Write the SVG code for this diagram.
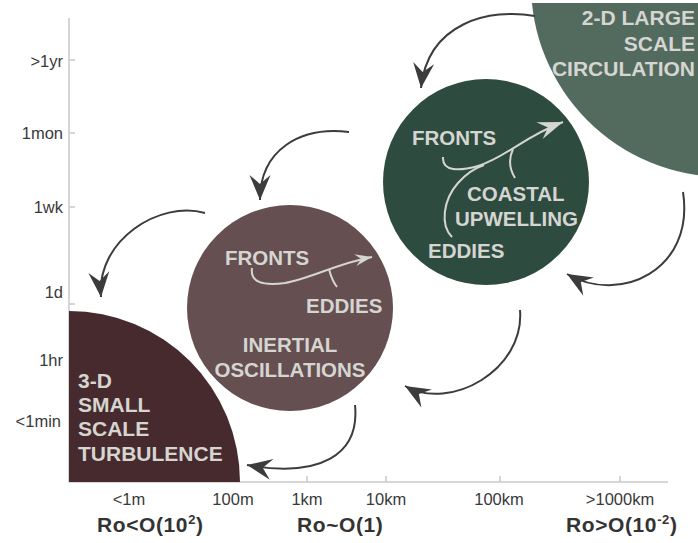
<svg xmlns="http://www.w3.org/2000/svg" width="698" height="543" viewBox="0 0 698 543">
<style>
.ax{stroke:#c9c9c9;stroke-width:1.5;fill:none}
.tl{font-family:"Liberation Sans",Arial,sans-serif;font-size:16.5px;fill:#3a3a3a}
.ro{font-family:"Liberation Sans",Arial,sans-serif;font-size:21px;font-weight:bold;fill:#333;letter-spacing:0.6px}
.lb{font-family:"Liberation Sans",Arial,sans-serif;font-size:20.5px;font-weight:bold;fill:#d5d5d1}
.lg{font-size:21px}
.cn{stroke:#3c3c3c;stroke-width:2;fill:none;marker-end:url(#ah)}
.ia{stroke:#d5d5d1;stroke-width:2;fill:none}
</style>
<defs>
<marker id="ah" markerUnits="userSpaceOnUse" markerWidth="1" markerHeight="1" refX="0" refY="0" orient="auto" overflow="visible">
<path d="M0,0 L-25,-10.5 L-16,0 L-25,10.5 Z" fill="#3c3c3c"/>
</marker>
<marker id="wb" markerUnits="userSpaceOnUse" markerWidth="1" markerHeight="1" refX="0" refY="0" orient="auto" overflow="visible">
<path d="M0,0 L-25,-9 L-16,0 L-25,9 Z" fill="#d5d5d1"/>
</marker>
<marker id="ws" markerUnits="userSpaceOnUse" markerWidth="1" markerHeight="1" refX="0" refY="0" orient="auto" overflow="visible">
<path d="M0,0 L-17,-6 L-11,0 L-17,6 Z" fill="#d5d5d1"/>
</marker>
<clipPath id="cl"><rect x="0" y="3" width="698" height="540"/></clipPath>
</defs>

<g id="axes">
<path class="ax" d="M69,18 V482 H668"/>
<path class="ax" d="M69,60 h6 M69,133 h6 M69,207 h6 M69,304 h6"/>
<path class="ax" d="M129,482 v-6 M189,482 v-6 M205,482 v-6 M226,482 v-6 M307,482 v-6 M386,482 v-6 M500,482 v-6 M620,482 v-6"/>
<text class="tl" x="63" y="67" text-anchor="end">&gt;1yr</text>
<text class="tl" x="63" y="139" text-anchor="end">1mon</text>
<text class="tl" x="63" y="213" text-anchor="end">1wk</text>
<text class="tl" x="63" y="298" text-anchor="end">1d</text>
<text class="tl" x="63" y="366" text-anchor="end">1hr</text>
<text class="tl" x="61" y="427" text-anchor="end">&lt;1min</text>
<text class="tl" x="129" y="505" text-anchor="middle">&lt;1m</text>
<text class="tl" x="233" y="505" text-anchor="middle">100m</text>
<text class="tl" x="307" y="505" text-anchor="middle">1km</text>
<text class="tl" x="386" y="505" text-anchor="middle">10km</text>
<text class="tl" x="499" y="505" text-anchor="middle">100km</text>
<text class="tl" x="620" y="505" text-anchor="middle">&gt;1000km</text>
<text class="ro" x="97" y="532">Ro&lt;O(10<tspan font-size="13" dy="-8">2</tspan><tspan dy="8">)</tspan></text>
<text class="ro" x="297" y="532">Ro~O(1)</text>
<text class="ro" x="566" y="532">Ro&gt;O(10<tspan font-size="13" dy="-8">-2</tspan><tspan dy="8">)</tspan></text>
</g>

<g id="large-scale">
<circle cx="724" cy="-16" r="193" fill="#536a5e" clip-path="url(#cl)"/>
<text class="lb lg" x="695" y="25" text-anchor="end">2-D LARGE</text>
<text class="lb lg" x="695" y="51" text-anchor="end">SCALE</text>
<text class="lb lg" x="695" y="76" text-anchor="end">CIRCULATION</text>
</g>

<g id="submesoscale-green">
<circle cx="486" cy="182" r="103" fill="#2e4b40"/>
<path class="ia" d="M443,157 C442,172 460,171 478,166 C505,158 525,136 563,122" marker-end="url(#wb)"/>
<path class="ia" d="M452,237 C440,225 443,200 458,183 C466,174 475,168 484,165"/>
<path class="ia" d="M513,149 C508,160 510,170 515,178"/>
<text class="lb" x="412" y="145">FRONTS</text>
<text class="lb" x="467" y="201">COASTAL</text>
<text class="lb" x="455" y="226">UPWELLING</text>
<text class="lb" x="428" y="258">EDDIES</text>
</g>

<g id="submesoscale-mauve">
<circle cx="290" cy="308" r="103" fill="#654f51"/>
<path class="ia" d="M252,268 C250,282 262,286 285,283 C310,279 335,264 372,257" marker-end="url(#ws)"/>
<path class="ia" d="M329,269 C331,277 333,282 337,287"/>
<text class="lb" x="225" y="265">FRONTS</text>
<text class="lb" x="306" y="313">EDDIES</text>
<text class="lb" x="290" y="352" text-anchor="middle">INERTIAL</text>
<text class="lb" x="290" y="377" text-anchor="middle">OSCILLATIONS</text>
</g>

<g id="small-scale">
<path d="M69,311 A171,171 0 0 1 240,482 L69,482 Z" fill="#472a2d"/>
<text class="lb lg" x="78" y="388">3-D</text>
<text class="lb lg" x="78" y="412">SMALL</text>
<text class="lb lg" x="78" y="436">SCALE</text>
<text class="lb lg" x="78" y="461">TURBULENCE</text>
</g>

<g id="connectors">
<path class="cn" d="M535,16 C490,8 428,22 421,88"/>
<path class="cn" d="M349,132 C300,126 260,150 260,200"/>
<path class="cn" d="M205,213 C160,200 96,240 101,297"/>
<path class="cn" d="M683,192 C695,270 620,305 567,274"/>
<path class="cn" d="M520,310 C525,370 450,412 405,386"/>
<path class="cn" d="M355,405 C360,455 320,478 247,465"/>
</g>
</svg>
